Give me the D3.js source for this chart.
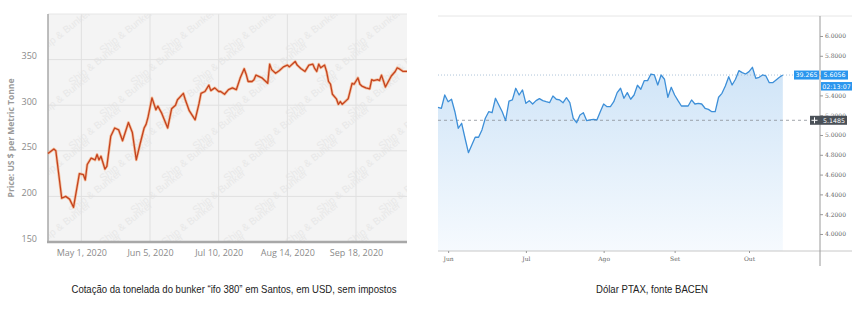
<!DOCTYPE html>
<html><head><meta charset="utf-8">
<script src="https://cdn.jsdelivr.net/npm/d3@7/dist/d3.min.js"></script>
<style>body{margin:0;background:#fff}svg{display:block}</style>
</head><body>
<svg id="c" width="866" height="310"></svg>
<script>
// ---------- Left chart data: bunker IFO 380 Santos (USD/t) ----------
const bunkerDates = ["2020-04-14","2020-04-17","2020-04-18","2020-04-21","2020-04-23","2020-04-25","2020-04-27","2020-04-30","2020-05-02","2020-05-03","2020-05-04","2020-05-06","2020-05-08","2020-05-09","2020-05-10","2020-05-11","2020-05-13","2020-05-14","2020-05-16","2020-05-18","2020-05-20","2020-05-22","2020-05-25","2020-05-27","2020-05-29","2020-05-31","2020-06-02","2020-06-03","2020-06-04","2020-06-06","2020-06-08","2020-06-09","2020-06-11","2020-06-14","2020-06-16","2020-06-18","2020-06-19","2020-06-22","2020-06-23","2020-06-25","2020-06-28","2020-06-30","2020-07-01","2020-07-03","2020-07-05","2020-07-06","2020-07-08","2020-07-10","2020-07-11","2020-07-13","2020-07-15","2020-07-17","2020-07-19","2020-07-21","2020-07-23","2020-07-24","2020-07-25","2020-07-27","2020-07-28","2020-07-29","2020-07-31","2020-08-01","2020-08-04","2020-08-05","2020-08-06","2020-08-08","2020-08-10","2020-08-12","2020-08-14","2020-08-15","2020-08-18","2020-08-19","2020-08-21","2020-08-23","2020-08-25","2020-08-27","2020-08-28","2020-08-29","2020-08-30","2020-08-31","2020-09-02","2020-09-03","2020-09-04","2020-09-05","2020-09-06","2020-09-08","2020-09-09","2020-09-10","2020-09-11","2020-09-13","2020-09-14","2020-09-16","2020-09-17","2020-09-19","2020-09-20","2020-09-21","2020-09-23","2020-09-25","2020-09-26","2020-09-27","2020-09-29","2020-09-30","2020-10-01","2020-10-03","2020-10-04","2020-10-06","2020-10-08","2020-10-09","2020-10-10","2020-10-12","2020-10-14"];
const bunkerPrices = [247,252,250,198,200,197,188,225,224,218,235,242,240,246,240,244,230,233,266,275,273,261,281,270,240,258,275,279,287,308,295,299,291,275,296,300,306,313,306,294,284,302,313,315,322,316,319,315,315,312,317,319,317,330,340,334,326,326,328,333,331,330,324,345,339,335,338,342,344,342,348,344,340,337,344,345,340,337,345,341,344,337,326,323,312,307,301,304,301,305,307,324,323,330,323,321,319,318,328,327,328,327,333,320,324,332,337,341,340,337,337];
const bunkerXDomain = ["2020-04-14","2020-10-14"];
const bunkerYDomain = [150, 400];
const bunkerXTicks = ["2020-05-01","2020-06-05","2020-07-10","2020-08-14","2020-09-18"];
const bunkerXTickLabels = ["May 1, 2020","Jun 5, 2020","Jul 10, 2020","Aug 14, 2020","Sep 18, 2020"];
const bunkerYTicks = [150,200,250,300,350];
const bunkerYTitle = "Price: US $ per Metric Tonne";
const bunkerCaption = "Cotação da tonelada do bunker \u201cifo 380\u201d em Santos, em USD, sem impostos";

// ---------- Right chart data: Dólar PTAX ----------
const ptaxValues = [5.280,5.270,5.404,5.336,5.361,5.235,5.068,5.118,4.967,4.821,4.899,4.977,4.977,5.051,5.169,5.235,5.225,5.371,5.303,5.235,5.145,5.343,5.354,5.472,5.404,5.455,5.320,5.347,5.313,5.347,5.367,5.347,5.336,5.326,5.394,5.361,5.354,5.326,5.377,5.326,5.169,5.124,5.202,5.225,5.145,5.152,5.158,5.152,5.235,5.313,5.286,5.286,5.336,5.428,5.472,5.371,5.428,5.361,5.404,5.502,5.462,5.549,5.549,5.616,5.606,5.505,5.606,5.563,5.381,5.482,5.404,5.347,5.293,5.293,5.293,5.354,5.313,5.320,5.313,5.270,5.259,5.235,5.235,5.381,5.421,5.495,5.589,5.505,5.563,5.650,5.630,5.616,5.640,5.684,5.573,5.583,5.606,5.596,5.528,5.528,5.556,5.583,5.6056];
const ptaxXDomain = [0, 113];
const ptaxYDomain = [3.828, 6.202];
const ptaxXTickIdx = [3, 26, 49, 70, 92];
const ptaxXTickLabels = ["Jun","Jul","Ago","Set","Out"];
const ptaxYTicks = [4.0,4.2,4.4,4.6,4.8,5.0,5.2,5.4,5.6,5.8,6.0];
const ptaxLast = 5.6056;
const ptaxRef = 5.1485;
const ptaxSideLabel = "39.265";
const ptaxTimer = "02:13:07";
const ptaxCaption = "Dólar PTAX, fonte BACEN";

const svg = d3.select("#c");
const parse = d3.timeParse("%Y-%m-%d");

// ================= LEFT CHART =================
const L = {x0:48, x1:407, y0:14, y1:242};
const lx = d3.scaleTime().domain(bunkerXDomain.map(parse)).range([L.x0, L.x1]);
const ly = d3.scaleLinear().domain(bunkerYDomain).range([L.y1, L.y0]);
const left = svg.append("g");

left.append("rect").attr("x",L.x0).attr("y",L.y0).attr("width",L.x1-L.x0).attr("height",L.y1-L.y0).attr("fill","#f4f4f4");
left.append("clipPath").attr("id","lclip").append("rect").attr("x",L.x0).attr("y",L.y0).attr("width",L.x1-L.x0).attr("height",L.y1-L.y0);

// watermark
const wm = left.append("g").attr("clip-path","url(#lclip)");
for (let r = 0; r < 8; r++) {
  for (let c = 0; c < 7; c++) {
    const cx = L.x0 + 18 + c*62 + (r%2)*31;
    const cy = L.y0 + 20 + r*32;
    wm.append("text").attr("transform",`translate(${cx},${cy}) rotate(-38)`)
      .attr("font-family","Liberation Sans, Arial, sans-serif").attr("font-size",10)
      .attr("fill","#e8e8e8").attr("text-anchor","middle").text("Ship & Bunker");
  }
}

// grid
left.append("g").selectAll("line").data(bunkerYTicks).join("line")
  .attr("x1",L.x0).attr("x2",L.x1).attr("y1",d=>ly(d)).attr("y2",d=>ly(d)).attr("stroke","#e0e0e0").attr("stroke-width",1);
left.append("g").selectAll("line").data(bunkerXTicks).join("line")
  .attr("x1",d=>lx(parse(d))).attr("x2",d=>lx(parse(d))).attr("y1",L.y0).attr("y2",L.y1).attr("stroke","#e0e0e0").attr("stroke-width",1);
left.append("line").attr("x1",L.x0).attr("x2",L.x1).attr("y1",L.y0).attr("y2",L.y0).attr("stroke","#e6e6e6");

// axes
const lyAxis = left.append("g").attr("transform",`translate(${L.x0},0)`)
  .call(d3.axisLeft(ly).tickValues(bunkerYTicks).tickSize(0).tickPadding(11));
lyAxis.select(".domain").remove();
lyAxis.selectAll("text").attr("font-family","Open Sans, Liberation Sans, sans-serif").attr("font-size",9).attr("fill","#8a8a8a").attr("dy","-0.1em");
left.append("line").attr("x1",L.x0).attr("x2",L.x0).attr("y1",L.y0).attr("y2",L.y1).attr("stroke","#a8a8a8").attr("stroke-width",1.5);

const lxAxis = left.append("g").attr("transform",`translate(0,${L.y1})`)
  .call(d3.axisBottom(lx).tickValues(bunkerXTicks.map(parse)).tickFormat((d,i)=>bunkerXTickLabels[i]).tickSize(0).tickPadding(8));
lxAxis.select(".domain").remove();
lxAxis.selectAll("text").attr("font-family","Open Sans, Liberation Sans, sans-serif").attr("font-size",9).attr("fill","#8a8a8a");
left.append("line").attr("x1",L.x0-1).attr("x2",L.x1).attr("y1",L.y1).attr("y2",L.y1).attr("stroke","#a8a8a8").attr("stroke-width",2.5);

left.append("text").attr("transform",`translate(14,${(L.y0+L.y1)/2+10}) rotate(-90)`)
  .attr("text-anchor","middle").attr("font-family","Open Sans, Liberation Sans, sans-serif").attr("font-size",8.5).attr("font-weight","bold")
  .attr("fill","#9a9a9a").text(bunkerYTitle);

// line
const bunkerData = bunkerDates.map((d,i)=>({d:parse(d), v:bunkerPrices[i]}));
const lline = d3.line().x(d=>lx(d.d)).y(d=>ly(d.v));
left.append("path").datum(bunkerData).attr("d",lline).attr("fill","none").attr("stroke","#f5a36e").attr("stroke-width",2.8).attr("stroke-linejoin","round").attr("opacity",0.65);
left.append("path").datum(bunkerData).attr("d",lline).attr("fill","none").attr("stroke","#c4431f").attr("stroke-width",1.3).attr("stroke-linejoin","round");

// ================= RIGHT CHART =================
const R = {x0:438, x1:820, xr:852, y0:16, y1:251};
const rx = d3.scaleLinear().domain(ptaxXDomain).range([R.x0, R.x1]);
const ry = d3.scaleLinear().domain(ptaxYDomain).range([R.y1, R.y0]);
const right = svg.append("g");

const defs = svg.append("defs");
const grad = defs.append("linearGradient").attr("id","pg")
  .attr("gradientUnits","userSpaceOnUse").attr("x1",0).attr("y1",ry(5.7)).attr("x2",0).attr("y2",R.y1);
grad.append("stop").attr("offset",0).attr("stop-color","#cfe4f7");
grad.append("stop").attr("offset",1).attr("stop-color","#f6fafe");

right.append("line").attr("x1",R.x0).attr("x2",R.xr).attr("y1",R.y0).attr("y2",R.y0).attr("stroke","#e6e6e6");

const pdata = ptaxValues.map((v,i)=>({i, v}));
right.append("path").datum(pdata).attr("d", d3.area().x(d=>rx(d.i)).y0(R.y1).y1(d=>ry(d.v))).attr("fill","url(#pg)");

// ref lines
right.append("line").attr("x1",R.x0).attr("x2",R.x1).attr("y1",ry(ptaxRef)).attr("y2",ry(ptaxRef))
  .attr("stroke","#8a8f95").attr("stroke-dasharray","3,3").attr("stroke-width",0.8);
right.append("line").attr("x1",R.x0).attr("x2",R.x1).attr("y1",ry(ptaxLast)).attr("y2",ry(ptaxLast))
  .attr("stroke","#9ab6cf").attr("stroke-dasharray","1,2").attr("stroke-width",0.8);

right.append("path").datum(pdata).attr("d", d3.line().x(d=>rx(d.i)).y(d=>ry(d.v))).attr("fill","none")
  .attr("stroke","#3d8fd8").attr("stroke-width",1.3).attr("stroke-linejoin","round");

// axes lines
right.append("line").attr("x1",R.x0).attr("x2",R.xr).attr("y1",R.y1).attr("y2",R.y1).attr("stroke","#c8c8c8");
right.append("line").attr("x1",R.x1).attr("x2",R.x1).attr("y1",R.y0).attr("y2",266).attr("stroke","#9a9a9a");

const ryAxis = right.append("g").attr("transform",`translate(${R.x1},0)`)
  .call(d3.axisRight(ry).tickValues(ptaxYTicks).tickFormat(d3.format(".4f")).tickSize(3).tickPadding(2));
ryAxis.select(".domain").remove();
ryAxis.selectAll("line").attr("stroke","#999");
ryAxis.selectAll("text").attr("font-family","DejaVu Serif, serif").attr("font-size",6).attr("fill","#666");

const rxAxis = right.append("g").attr("transform",`translate(0,${R.y1})`)
  .call(d3.axisBottom(rx).tickValues(ptaxXTickIdx).tickFormat((d,i)=>ptaxXTickLabels[i]).tickSize(2).tickPadding(4));
rxAxis.select(".domain").remove();
rxAxis.selectAll("line").attr("stroke","#999");
rxAxis.selectAll("text").attr("font-family","DejaVu Serif, serif").attr("font-size",6).attr("fill","#666");

// price labels
const yl = ry(ptaxLast);
right.append("rect").attr("x",794).attr("y",yl-4.5).attr("width",25).attr("height",9).attr("fill","#2a96ee");
right.append("text").attr("x",806.5).attr("y",yl+2.3).attr("text-anchor","middle").attr("font-family","DejaVu Sans, sans-serif").attr("font-size",6.3).attr("fill","#fff").text(ptaxSideLabel);
right.append("rect").attr("x",R.x1+1).attr("y",yl-4.5).attr("width",27).attr("height",9).attr("fill","#2a96ee");
right.append("text").attr("x",R.x1+14.5).attr("y",yl+2.3).attr("text-anchor","middle").attr("font-family","DejaVu Sans, sans-serif").attr("font-size",6.3).attr("fill","#fff").text(d3.format(".4f")(ptaxLast));
right.append("rect").attr("x",R.x1+1).attr("y",yl+7).attr("width",31).attr("height",8.5).attr("fill","#2a96ee");
right.append("text").attr("x",R.x1+16.5).attr("y",yl+13.6).attr("text-anchor","middle").attr("font-family","DejaVu Sans, sans-serif").attr("font-size",6.3).attr("fill","#fff").text(ptaxTimer);

const yr = ry(ptaxRef);
right.append("rect").attr("x",810).attr("y",yr-4.5).attr("width",37).attr("height",9).attr("fill","#4b5158");
right.append("line").attr("x1",811.5).attr("x2",817.5).attr("y1",yr).attr("y2",yr).attr("stroke","#fff").attr("stroke-width",1);
right.append("line").attr("x1",814.5).attr("x2",814.5).attr("y1",yr-3).attr("y2",yr+3).attr("stroke","#fff").attr("stroke-width",1);
right.append("text").attr("x",R.x1+14).attr("y",yr+2.3).attr("text-anchor","middle").attr("font-family","DejaVu Sans, sans-serif").attr("font-size",6.3).attr("fill","#fff").text(d3.format(".4f")(ptaxRef));

// ================= CAPTIONS =================
svg.append("text").attr("x",234).attr("y",293).attr("text-anchor","middle").attr("font-family","Liberation Sans, Arial, sans-serif")
  .attr("font-size",10.5).attr("fill","#222").attr("textLength",325).attr("lengthAdjust","spacingAndGlyphs").text(bunkerCaption);
svg.append("text").attr("x",652).attr("y",293).attr("text-anchor","middle").attr("font-family","Liberation Sans, Arial, sans-serif")
  .attr("font-size",10.5).attr("fill","#222").attr("textLength",112).attr("lengthAdjust","spacingAndGlyphs").text(ptaxCaption);
</script>
</body></html>
